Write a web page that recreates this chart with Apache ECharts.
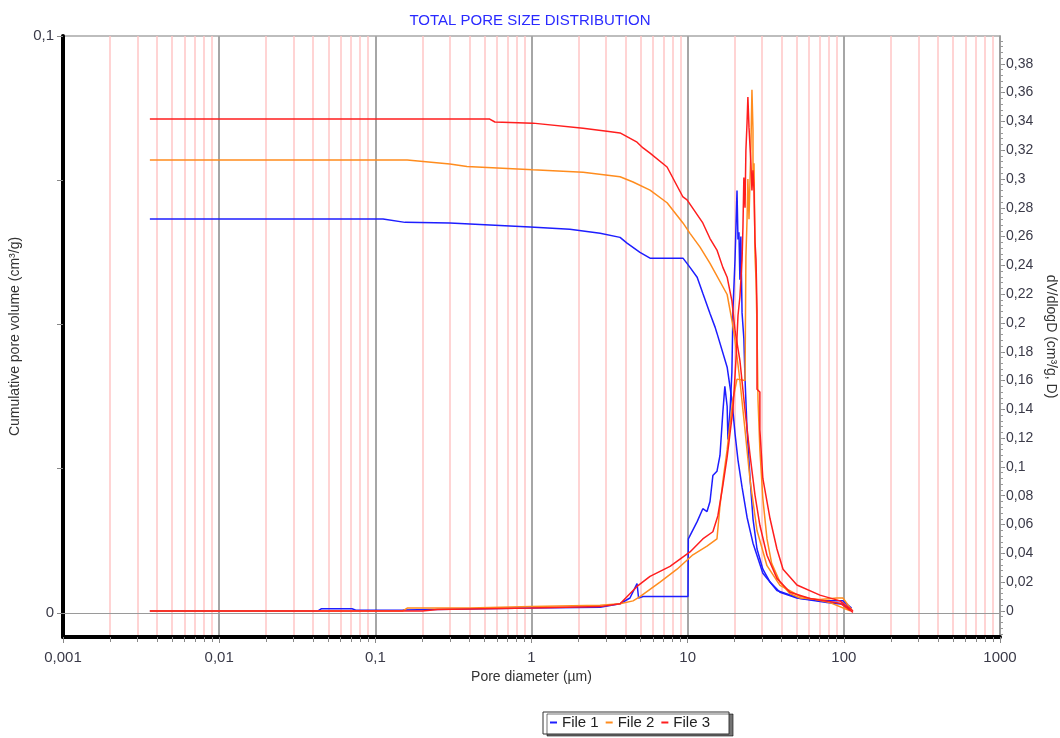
<!DOCTYPE html>
<html><head><meta charset="utf-8">
<script src="https://cdn.jsdelivr.net/npm/echarts@6/dist/echarts.min.js"></script>
<style>html,body{margin:0;padding:0;background:#fff}#chart{width:1060px;height:738px}</style>
</head><body><div id="chart"></div>
<script>
// ---------------- DATA ----------------
const seriesNames = ['File 1', 'File 2', 'File 3'];

// Cumulative pore volume (cm3/g) vs pore diameter (µm)  -> left axis
const file1Cumulative = [[0.0036,0.0683],[0.112,0.0683],[0.155,0.0677],[0.30,0.0676],[0.98,0.0669],[1.76,0.0665],[2.75,0.0658],[3.69,0.0651],[4.09,0.0641],[4.95,0.0625],[5.74,0.0615],[9.33,0.0615],[10.35,0.0599],[11.5,0.0582],[12.5,0.0554],[13.9,0.0519],[15.0,0.0495],[15.4,0.0485],[17.9,0.0426],[19.2,0.0369],[20.1,0.0311],[21.0,0.0265],[22.3,0.0218],[24.0,0.0166],[26.2,0.0121],[30.3,0.0069],[37.3,0.0039],[52.4,0.0025],[78.0,0.0018],[98.8,0.0015],[109.5,0.0006]];
const file2Cumulative = [[0.0036,0.0785],[0.16,0.0785],[0.30,0.0778],[0.386,0.0774],[1.02,0.0768],[2.14,0.0764],[3.69,0.0756],[4.47,0.0747],[5.74,0.0733],[7.38,0.0711],[9.33,0.0676],[10.35,0.0658],[12.0,0.0634],[13.9,0.0606],[17.9,0.0552],[19.2,0.0507],[20.1,0.0473],[21.6,0.0403],[23.3,0.0317],[25.1,0.0230],[27.8,0.0143],[32.2,0.0082],[39.0,0.0048],[52.4,0.0029],[81.5,0.0018],[109.5,0.0004]];
const file3Cumulative = [[0.0036,0.0856],[0.54,0.0856],[0.583,0.0851],[1.02,0.0849],[2.14,0.0840],[3.04,0.0835],[3.69,0.0832],[4.74,0.0816],[5.18,0.0806],[5.74,0.0797],[7.38,0.0773],[9.33,0.0721],[9.91,0.0716],[12.5,0.0676],[13.9,0.0649],[15.4,0.0629],[16.8,0.0599],[17.9,0.0582],[19.2,0.0541],[20.1,0.0490],[21.6,0.0438],[23.3,0.0351],[25.1,0.0273],[27.0,0.0204],[29.0,0.0152],[32.2,0.0100],[37.3,0.0060],[45.2,0.0036],[60.7,0.0025],[94.4,0.0017],[114.5,0.0001]];

// dV/dlogD (cm3/g) vs pore diameter (µm) -> right axis
const file1DvDlogD = [[0.0036,0],[0.043,0],[0.045,0.0015],[0.071,0.0015],[0.075,0.0005],[0.15,0.0007],[0.3,0.0012],[1.0,0.002],[2.75,0.0025],[3.69,0.005],[4.27,0.009],[4.74,0.019],[4.85,0.009],[5.18,0.010],[10.05,0.010],[10.1,0.050],[11.5,0.062],[12.5,0.071],[13.3,0.069],[13.9,0.076],[14.5,0.094],[15.4,0.097],[16.1,0.108],[16.8,0.138],[17.3,0.156],[17.9,0.142],[18.1,0.119],[18.7,0.140],[19.2,0.166],[19.5,0.209],[20.1,0.244],[20.7,0.292],[21.0,0.258],[21.3,0.263],[21.6,0.230],[21.9,0.260],[22.3,0.207],[22.9,0.189],[23.3,0.161],[24.0,0.126],[25.1,0.092],[26.2,0.064],[27.8,0.043],[30.3,0.029],[33.7,0.020],[39.0,0.013],[50.1,0.009],[70.3,0.007],[98.8,0.007],[106.4,0.004],[112,0.002]];
const file2DvDlogD = [[0.0036,0],[0.15,0],[0.16,0.002],[0.4,0.002],[1.0,0.003],[2.75,0.004],[3.69,0.005],[4.47,0.007],[4.95,0.010],[6.65,0.020],[8.55,0.029],[10.8,0.039],[13.3,0.045],[15.4,0.050],[16.1,0.073],[16.8,0.090],[17.9,0.112],[18.7,0.131],[19.5,0.147],[20.7,0.161],[23.3,0.160],[23.6,0.246],[24.0,0.272],[24.3,0.300],[24.7,0.272],[25.4,0.322],[25.8,0.362],[26.2,0.334],[26.2,0.300],[26.6,0.311],[27.0,0.246],[27.4,0.230],[27.8,0.196],[28.2,0.147],[29.0,0.112],[30.3,0.078],[32.2,0.050],[34.5,0.033],[39.0,0.020],[45.2,0.012],[52.4,0.009],[70.3,0.008],[90.4,0.009],[98.8,0.009],[106.4,0.004],[112,0.001]];
const file3DvDlogD = [[0.0036,0],[0.2,0],[0.25,0.001],[1.0,0.002],[2.75,0.003],[3.69,0.005],[4.74,0.017],[5.74,0.024],[7.71,0.031],[10.35,0.041],[12.5,0.050],[14.5,0.055],[15.6,0.066],[16.8,0.087],[17.9,0.107],[18.7,0.124],[19.5,0.140],[20.4,0.175],[21.0,0.205],[21.6,0.218],[22.3,0.244],[22.6,0.267],[22.9,0.301],[23.3,0.280],[23.6,0.320],[24.0,0.339],[24.3,0.357],[24.7,0.336],[25.4,0.311],[25.8,0.292],[26.2,0.306],[26.6,0.292],[27.0,0.256],[27.4,0.244],[27.8,0.209],[27.8,0.154],[29.0,0.152],[29.0,0.126],[30.3,0.092],[33.7,0.064],[37.3,0.043],[40.8,0.029],[50.1,0.018],[70.3,0.011],[94.4,0.007],[114.5,0]];

// Tick values
const xDecadeTicks = [0.001,0.01,0.1,1,10,100,1000];
const xMinorTicks = [0.002,0.003,0.004,0.005,0.006,0.007,0.008,0.009,
  0.02,0.03,0.04,0.05,0.06,0.07,0.08,0.09,
  0.2,0.3,0.4,0.5,0.6,0.7,0.8,0.9,
  2,3,4,5,6,7,8,9, 20,30,40,50,60,70,80,90, 200,300,400,500,600,700,800,900];
const leftTickValues = [0,0.025,0.05,0.075,0.1];
const leftLabelValues = [0,0.1];
const rightLabelValues = [0,0.02,0.04,0.06,0.08,0.1,0.12,0.14,0.16,0.18,0.2,0.22,0.24,0.26,0.28,0.3,0.32,0.34,0.36,0.38];

// ---------------- STYLE ----------------
const FONT = '"Liberation Sans", Arial, sans-serif';
const colors = ['#1e1eff', '#ff8c1e', '#ff1e1e'];
const TXT = '#3a3a48';
const rightMinorTicks = [];
for (let i = -4; i <= 99; i++) rightMinorTicks.push(+(i * 0.004).toFixed(3));
const commaFmt = v => { const n = +(+v).toPrecision(6); return n === 0 ? '0' : String(n).replace('.', ','); };

const cumData = [file1Cumulative, file2Cumulative, file3Cumulative];
const dvData = [file1DvDlogD, file2DvDlogD, file3DvDlogD];
const series = [];
for (let i = 0; i < 3; i++) {
  const base = { name: seriesNames[i], type: 'line', xAxisIndex: 0, symbol: 'none', showSymbol: false,
    lineStyle: { width: 1.5, color: colors[i] }, itemStyle: { color: colors[i] }, animation: false, z: 3 };
  series.push(Object.assign({}, base, { yAxisIndex: 0, data: cumData[i] },
    i === 0 ? { markLine: { silent: true, symbol: 'none', animation: false, label: { show: false },
      lineStyle: { color: '#9a9a9a', width: 1, type: 'solid' }, data: [{ yAxis: 0 }] } } : {}));
  series.push(Object.assign({}, base, { yAxisIndex: 1, data: dvData[i] }));
}

const chart = echarts.init(document.getElementById('chart'), null, { renderer: 'canvas' });
chart.setOption({
  backgroundColor: '#fff',
  textStyle: { fontFamily: FONT },
  title: { text: 'TOTAL PORE SIZE DISTRIBUTION', left: 'center', top: 8,
    textStyle: { color: '#2a2aff', fontSize: 15, fontWeight: 'normal', fontFamily: FONT } },
  legend: { data: seriesNames, left: 543, top: 712, icon: 'rect', itemWidth: 7, itemHeight: 2, itemGap: 7,
    padding: [3, 19, 4, 7], borderColor: '#333', borderWidth: 1, backgroundColor: '#fff',
    shadowColor: 'rgba(0,0,0,0.55)', shadowOffsetX: 4, shadowOffsetY: 2, shadowBlur: 0,
    textStyle: { fontSize: 15, color: '#222', fontFamily: FONT } },
  grid: { left: 63, right: 60, top: 36, bottom: 101, containLabel: false, outerBoundsMode: 'none',
    show: true, borderColor: '#a8a8a8', borderWidth: 1.5, backgroundColor: 'transparent' },
  xAxis: [
    { type: 'log', logBase: 10, min: 0.001, max: 1000, position: 'bottom',
      axisLine: { show: true, onZero: false, lineStyle: { color: '#000', width: 4 } },
      axisTick: { show: true, customValues: xDecadeTicks, length: 6, lineStyle: { color: '#888' } },
      axisLabel: { customValues: xDecadeTicks, formatter: commaFmt, fontSize: 15, color: TXT, margin: 13, fontFamily: FONT },
      splitLine: { show: true, lineStyle: { color: '#a6a6a6', width: 2 } },
      name: 'Pore diameter (µm)', nameLocation: 'middle', nameGap: 30,
      nameTextStyle: { fontSize: 14, color: '#333', fontFamily: FONT } },
    { type: 'log', logBase: 10, min: 0.001, max: 1000, position: 'bottom',
      axisLine: { show: false, onZero: false },
      axisTick: { show: true, customValues: xMinorTicks, length: 5, lineStyle: { color: '#888' } },
      axisLabel: { show: false },
      splitLine: { show: true, lineStyle: { color: '#ffc6c6', width: 1.5 } } }
  ],
  yAxis: [
    { type: 'value', position: 'left', min: -0.00416, max: 0.1,
      axisLine: { show: true, onZero: false, lineStyle: { color: '#000', width: 4 } },
      axisTick: { show: true, customValues: leftTickValues, length: 6, lineStyle: { color: '#888' } },
      axisLabel: { customValues: leftLabelValues, formatter: commaFmt, fontSize: 15, color: TXT, margin: 9, fontFamily: FONT },
      splitLine: { show: false },
      name: 'Cumulative pore volume (cm³/g)', nameLocation: 'middle', nameGap: 33, nameRotate: 90,
      nameTextStyle: { fontSize: 14, color: '#333', fontFamily: FONT } },
    { type: 'value', position: 'right', min: -0.0181, max: 0.3993,
      axisLine: { show: true, onZero: false, lineStyle: { color: '#9a9a9a', width: 1.5 } },
      axisTick: { show: true, customValues: rightLabelValues, length: 5, lineStyle: { color: '#888' } },
      axisLabel: { customValues: rightLabelValues, formatter: commaFmt, fontSize: 14, color: TXT, margin: 6, fontFamily: FONT },
      splitLine: { show: false },
      name: 'dV/dlogD (cm³/g, D)', nameLocation: 'middle', nameGap: 41, nameRotate: -90,
      nameTextStyle: { fontSize: 14, color: '#333', fontFamily: FONT } },
    { type: 'value', position: 'right', min: -0.0181, max: 0.3993,
      axisLine: { show: false, onZero: false },
      axisTick: { show: true, customValues: rightMinorTicks, length: 3, lineStyle: { color: '#999' } },
      axisLabel: { show: false }, splitLine: { show: false } }
  ],
  series: series
});
</script>
</body></html>
